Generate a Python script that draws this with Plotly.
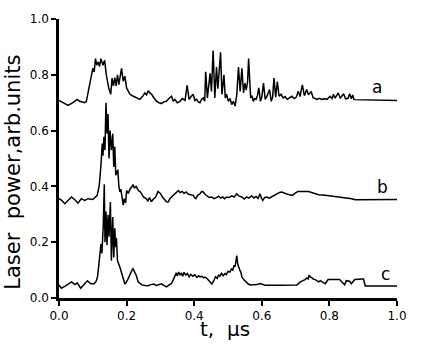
import plotly.graph_objects as go

# Trace a
a_t = [0.000,0.012,0.027,0.041,0.054,0.061,0.076,0.081,0.086,0.094,0.100,0.104,0.108,0.112,0.116,0.120,0.124,0.130,0.135,0.140,
       0.147,0.153,0.157,0.161,0.165,0.169,0.173,0.177,0.181,0.185,0.190,0.195,0.200,0.210,0.217,0.224,0.232,0.239,0.247,0.254,
       0.259,0.264,0.269,0.274,0.282,0.289,0.296,0.303,0.310,0.318,0.325,0.333,0.338,0.343,0.350,0.358,0.365,0.373,0.379,0.385,
       0.391,0.397,0.402,0.407,0.412,0.417,0.422,0.427,0.431,0.434,0.439,0.443,0.447,0.451,0.456,0.461,0.466,0.470,0.474,0.478,
       0.482,0.485,0.488,0.492,0.496,0.501,0.506,0.511,0.516,0.521,0.526,0.531,0.536,0.541,0.546,0.550,0.554,0.558,0.561,0.567,
       0.571,0.575,0.579,0.583,0.587,0.591,0.596,0.600,0.605,0.610,0.616,0.623,0.628,0.632,0.636,0.641,0.646,0.651,0.657,0.663,
       0.669,0.675,0.682,0.689,0.696,0.702,0.708,0.713,0.720,0.726,0.733,0.738,0.746,0.752,0.758,0.763,0.770,0.778,0.786,0.793,
       0.802,0.808,0.812,0.817,0.826,0.832,0.842,0.848,0.855,0.860,0.865,0.869,0.873,1.000]
a_v = [0.708,0.700,0.690,0.700,0.712,0.705,0.700,0.705,0.735,0.780,0.823,0.810,0.858,0.835,0.846,0.830,0.858,0.834,0.852,0.800,
       0.753,0.730,0.788,0.760,0.790,0.760,0.800,0.765,0.790,0.823,0.777,0.795,0.753,0.730,0.725,0.720,0.715,0.712,0.722,0.735,
       0.728,0.743,0.735,0.730,0.715,0.705,0.700,0.697,0.703,0.705,0.715,0.723,0.705,0.712,0.700,0.705,0.715,0.708,0.762,0.712,
       0.722,0.730,0.708,0.712,0.703,0.700,0.712,0.717,0.705,0.811,0.717,0.760,0.805,0.740,0.887,0.717,0.828,0.750,0.840,0.881,
       0.730,0.770,0.800,0.717,0.730,0.705,0.715,0.693,0.705,0.688,0.730,0.828,0.740,0.823,0.735,0.770,0.745,0.776,0.858,0.717,
       0.725,0.705,0.715,0.712,0.725,0.753,0.705,0.720,0.770,0.712,0.725,0.747,0.705,0.720,0.788,0.720,0.776,0.723,0.730,0.717,
       0.722,0.712,0.718,0.723,0.715,0.720,0.741,0.722,0.764,0.725,0.747,0.728,0.740,0.717,0.715,0.712,0.716,0.712,0.714,0.712,
       0.723,0.715,0.730,0.716,0.735,0.716,0.732,0.714,0.716,0.732,0.714,0.728,0.711,0.708]

# Trace b
b_t = [0.000,0.008,0.017,0.027,0.037,0.047,0.056,0.066,0.076,0.086,0.100,0.113,0.119,0.124,0.128,0.130,0.133,0.136,0.139,0.142,
       0.145,0.148,0.151,0.155,0.159,0.162,0.165,0.168,0.171,0.174,0.177,0.180,0.183,0.187,0.190,0.193,0.197,0.200,0.205,0.210,
       0.215,0.219,0.223,0.228,0.235,0.241,0.247,0.252,0.258,0.263,0.268,0.273,0.280,0.286,0.293,0.300,0.306,0.312,0.318,0.323,
       0.328,0.335,0.343,0.348,0.353,0.358,0.364,0.370,0.376,0.383,0.390,0.397,0.401,0.405,0.410,0.417,0.422,0.427,0.432,0.437,
       0.444,0.452,0.459,0.466,0.472,0.478,0.484,0.490,0.496,0.503,0.511,0.518,0.526,0.533,0.541,0.548,0.555,0.562,0.570,0.577,
       0.583,0.589,0.595,0.600,0.603,0.608,0.615,0.622,0.628,0.636,0.644,0.652,0.659,0.666,0.674,0.682,0.690,0.698,0.707,0.738,
       0.768,0.788,0.817,0.847,0.866,0.876,1.000]
b_v = [0.356,0.350,0.338,0.350,0.362,0.352,0.340,0.356,0.350,0.356,0.353,0.368,0.403,0.473,0.554,0.510,0.578,0.530,0.700,0.590,
       0.659,0.500,0.600,0.530,0.589,0.470,0.543,0.440,0.450,0.460,0.403,0.380,0.390,0.350,0.333,0.356,0.340,0.385,0.375,0.390,
       0.398,0.405,0.395,0.400,0.385,0.380,0.368,0.360,0.356,0.348,0.360,0.345,0.356,0.362,0.382,0.375,0.362,0.355,0.345,0.344,
       0.356,0.365,0.373,0.380,0.385,0.378,0.382,0.375,0.380,0.372,0.370,0.368,0.360,0.356,0.368,0.373,0.382,0.380,0.372,0.368,
       0.360,0.362,0.356,0.360,0.365,0.358,0.362,0.356,0.362,0.360,0.366,0.362,0.373,0.365,0.362,0.355,0.362,0.358,0.366,0.358,
       0.364,0.357,0.373,0.355,0.350,0.360,0.362,0.358,0.362,0.368,0.373,0.378,0.380,0.376,0.373,0.370,0.368,0.375,0.382,0.382,
       0.370,0.368,0.363,0.360,0.356,0.352,0.353]

# Trace c
c_t = [0.000,0.007,0.017,0.027,0.037,0.047,0.054,0.064,0.074,0.084,0.094,0.104,0.110,0.114,0.118,0.122,0.124,0.127,0.131,0.134,
       0.136,0.139,0.142,0.145,0.148,0.152,0.155,0.159,0.162,0.165,0.168,0.170,0.173,0.180,0.188,0.195,0.203,0.212,0.216,0.219,
       0.224,0.229,0.234,0.245,0.255,0.264,0.272,0.280,0.288,0.295,0.303,0.310,0.318,0.325,0.333,0.338,0.343,0.347,0.350,0.354,
       0.358,0.362,0.366,0.370,0.375,0.380,0.385,0.390,0.396,0.402,0.408,0.413,0.417,0.423,0.428,0.432,0.438,0.445,0.452,0.458,
       0.463,0.468,0.472,0.476,0.481,0.486,0.491,0.495,0.500,0.506,0.510,0.514,0.518,0.521,0.524,0.526,0.529,0.531,0.535,0.538,
       0.541,0.547,0.553,0.560,0.566,0.575,0.585,0.595,0.603,0.610,0.654,0.704,0.714,0.723,0.728,0.733,0.737,0.740,0.744,0.748,
       0.752,0.758,0.763,0.768,0.773,0.778,0.783,0.788,0.796,0.817,0.830,0.835,0.840,0.845,0.850,0.855,0.860,0.865,0.875,0.896,
       0.901,0.906,1.000]
c_v = [0.047,0.035,0.042,0.050,0.058,0.048,0.054,0.035,0.048,0.062,0.051,0.051,0.060,0.076,0.120,0.160,0.193,0.160,0.262,0.408,
       0.200,0.310,0.190,0.298,0.220,0.344,0.134,0.290,0.145,0.250,0.182,0.215,0.134,0.111,0.076,0.050,0.065,0.093,0.100,0.105,
       0.095,0.080,0.058,0.047,0.045,0.044,0.048,0.050,0.045,0.048,0.051,0.045,0.040,0.046,0.052,0.065,0.076,0.090,0.080,0.093,
       0.082,0.090,0.078,0.092,0.082,0.088,0.076,0.085,0.078,0.083,0.074,0.080,0.076,0.078,0.072,0.075,0.070,0.058,0.050,0.062,
       0.076,0.070,0.082,0.078,0.088,0.080,0.088,0.084,0.095,0.093,0.104,0.100,0.118,0.112,0.135,0.152,0.120,0.111,0.100,0.093,
       0.076,0.065,0.058,0.050,0.047,0.047,0.048,0.052,0.049,0.046,0.046,0.047,0.058,0.062,0.066,0.072,0.068,0.082,0.075,0.073,
       0.068,0.066,0.062,0.058,0.062,0.058,0.055,0.051,0.066,0.066,0.066,0.060,0.054,0.047,0.062,0.062,0.060,0.051,0.066,0.068,
       0.068,0.043,0.043]

labels = ["a", "b", "c"]
label_t = [0.942, 0.956, 0.967]
label_v = [0.758, 0.397, 0.085]

tick_vals = [0.0, 0.2, 0.4, 0.6, 0.8, 1.0]
tick_text = ["0.0", "0.2", "0.4", "0.6", "0.8", "1.0"]

FONT = "DejaVu Sans"
W, H = 434, 344
M_L, M_R, M_T, M_B = 59, 37, 13, 46

fig = go.Figure()
for t, v in [(a_t, a_v), (b_t, b_v), (c_t, c_v)]:
    fig.add_trace(go.Scatter(x=t, y=v, mode="lines",
                             line=dict(color="black", width=1.5), showlegend=False))

for lab, tx, ty in zip(labels, label_t, label_v):
    fig.add_annotation(x=tx, y=ty, text=lab, showarrow=False,
                       font=dict(family=FONT, size=17, color="black"))

fig.update_xaxes(showline=True, linecolor="black", linewidth=2.5, ticks="outside", tickcolor="black",
                 ticklen=5, tickwidth=2, range=[0, 1], showgrid=False, zeroline=False,
                 tickvals=tick_vals, ticktext=tick_text,
                 tickfont=dict(family=FONT, size=12, color="black"))
fig.update_yaxes(showline=True, linecolor="black", linewidth=2.5, ticks="outside", tickcolor="black",
                 ticklen=5, tickwidth=2, range=[0, 1], showgrid=False, zeroline=False,
                 tickvals=tick_vals, ticktext=tick_text,
                 tickfont=dict(family=FONT, size=12, color="black"))

pw = W - M_L - M_R
ph = H - M_T - M_B
fig.add_annotation(xref="paper", yref="paper", x=(13 - M_L) / pw, y=(H - M_B - 170) / ph,
                   text="Laser\u00a0\u00a0power,arb.units", textangle=-90, showarrow=False,
                   xanchor="center", yanchor="middle", font=dict(family=FONT, size=21, color="black"))
fig.add_annotation(xref="paper", yref="paper", x=(225 - M_L) / pw, y=(H - M_B - 330) / ph,
                   text="t,\u00a0\u00a0μs", showarrow=False, xanchor="center", yanchor="middle",
                   font=dict(family=FONT, size=20, color="black"))

fig.update_layout(width=W, height=H, margin=dict(l=M_L, r=M_R, t=M_T, b=M_B),
                  plot_bgcolor="white", paper_bgcolor="white")

fig.write_html("out.html")
